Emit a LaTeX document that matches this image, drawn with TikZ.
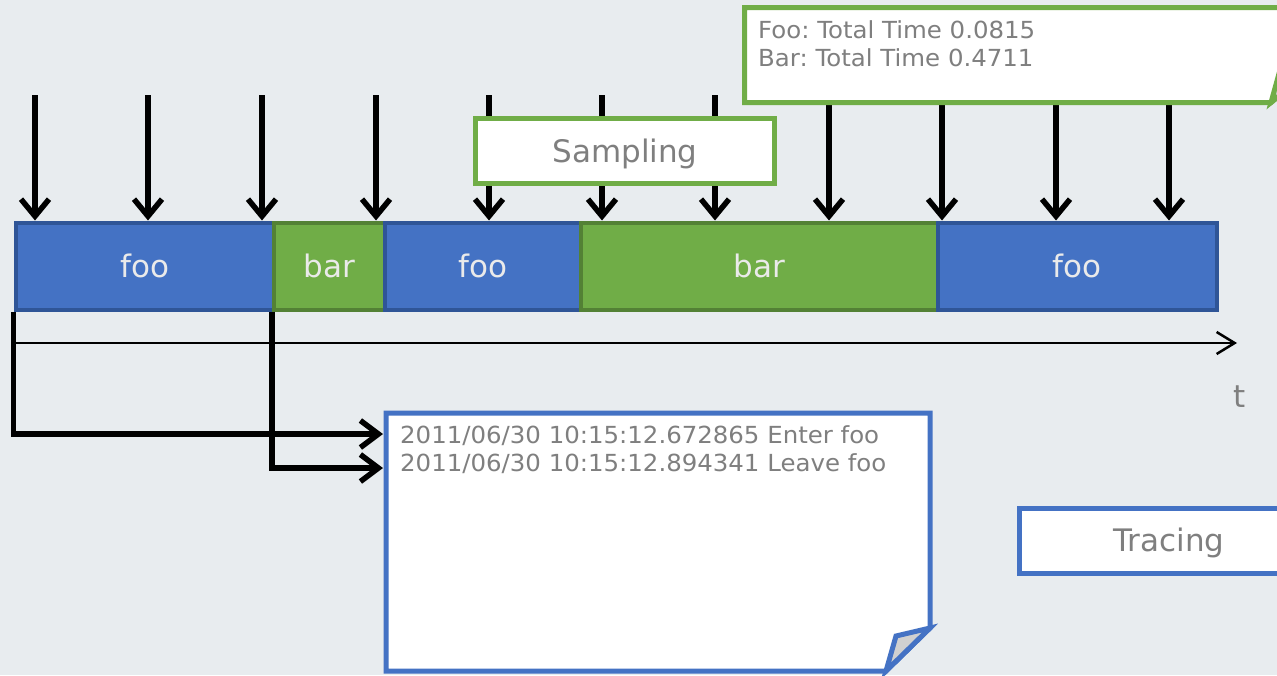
\documentclass[tikz,border=0pt]{standalone}
\usepackage{fontspec}
\setmainfont{DejaVu Sans}
\newfontfamily\notefont{DejaVu Sans}[FakeStretch=1.04]
\usetikzlibrary{arrows.meta}
\definecolor{bgcol}{HTML}{E8ECEF}
\definecolor{blueF}{HTML}{4472C4}
\definecolor{blueD}{HTML}{2F5597}
\definecolor{greenF}{HTML}{70AD47}
\definecolor{greenD}{HTML}{538135}
\definecolor{txtgray}{HTML}{7F7F7F}
\definecolor{bartxt}{HTML}{EAEAEA}
\definecolor{foldgray}{HTML}{D0D0D0}
\begin{document}
\begin{tikzpicture}[x=1pt,y=-1pt,
  seg/.style={draw, line width=4pt, minimum height=87pt, anchor=north west,
    inner sep=0pt, text=bartxt, font=\fontsize{31}{36}\selectfont},
  fooseg/.style={seg, fill=blueF, draw=blueD},
  barseg/.style={seg, fill=greenF, draw=greenD},
  label/.style={draw, fill=white, line width=5pt, minimum width=299pt,
    minimum height=65pt, text height=28pt, text depth=6pt,
    text=txtgray, font=\fontsize{31}{36}\selectfont},
  sample/.style={line width=5.5pt, -{Straight Barb[length=17pt,width=28pt]}},
  conn/.style={line width=5.5pt, -{Straight Barb[length=18pt,width=27pt]}},
  note/.style={text=txtgray, align=left, inner sep=0pt, anchor=north west,
    font=\notefont\fontsize{23.5}{27.5}\selectfont}]
\useasboundingbox (0,0) rectangle (1277,675);
\fill[bgcol] (0,0) rectangle (1277,675);
\begin{scope}
\clip (0,0) rectangle (1277,675);

% call segments on the time line
\node[fooseg, minimum width=258.5pt] (foo1) at (13.5,220.5) {foo};
\node[barseg, minimum width=111pt]   (bar1) at (272,220.5) {bar};
\node[fooseg, minimum width=196pt]   (foo2) at (383,220.5) {foo};
\node[barseg, minimum width=357pt]   (bar2) at (579,220.5) {bar};
\node[fooseg, minimum width=278.5pt] (foo3) at (936,220.5) {foo};

% periodic samples
\foreach \i/\x in {1/35,2/148,3/262,4/376,5/489,6/602,7/715,8/829,9/942,10/1056,11/1169}{
  \coordinate (top\i) at (\x,95);
  \draw[sample] (top\i) -- (top\i |- foo1.north);
}

% time axis
\coordinate (axisA) at (13.5,343);
\coordinate (axisB) at (1237,343);
\draw[line width=2.5pt, -{Straight Barb[length=18pt,width=22pt]}] (axisA) -- (axisB);
\node[text=txtgray, font=\fontsize{31}{36}\selectfont] (tlabel) at (1240,397) {t};

% trace log sheet with folded corner
\draw[blueF, line width=5pt, fill=white]
  (386,413) -- (930,413) -- (930,628) -- (886,671) -- (386,671) -- cycle;
\draw[blueF, line width=5pt, fill=foldgray, line join=miter]
  (886,671) -- (896,636) -- (930,628) -- cycle;
\node[note] (log) at (400,425.5)
  {2011/06/30 10:15:12.672865 Enter foo\\2011/06/30 10:15:12.894341 Leave foo};

% enter / leave events
\coordinate (in1) at (383,434);
\coordinate (in2) at (383,468);
\draw[conn] (foo1.south west) |- (in1);
\draw[conn] (bar1.south west) |- (in2);

% profile summary sheet
\draw[greenF, line width=5pt, fill=white]
  (744.5,7.5) -- (1320,7.5) -- (1320,62) -- (1271,102.5) -- (744.5,102.5) -- cycle;
\draw[greenF, line width=5pt, fill=foldgray]
  (1271,102.5) -- (1280,70) -- (1320,62) -- cycle;
\node[note] (summary) at (758,20.5)
  {Foo:\ Total Time 0.0815\\Bar:\ Total Time 0.4711};

% method labels
\node[label, draw=greenF] (sampling) at (625,151) {Sampling};
\node[label, draw=blueF]  (tracing)  at (1169,540.5) {Tracing};
\end{scope}
\end{tikzpicture}
\end{document}
